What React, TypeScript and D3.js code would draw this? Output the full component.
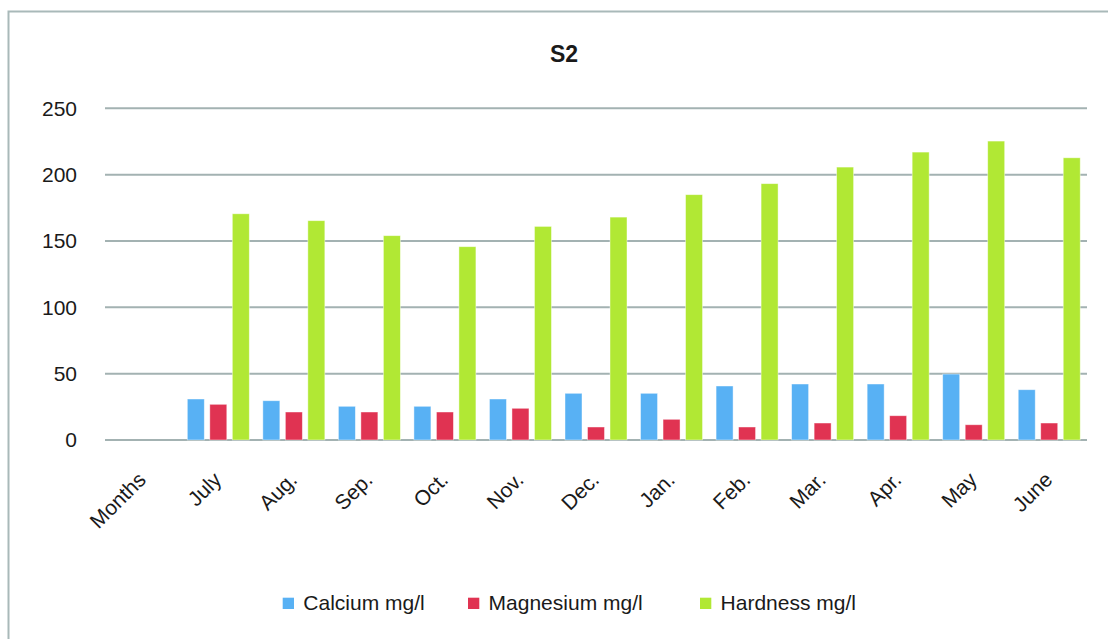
import React from "react";
import * as d3 from "d3";

const categories = ["Months", "July", "Aug.", "Sep.", "Oct.", "Nov.", "Dec.", "Jan.", "Feb.", "Mar.", "Apr.", "May", "June"];
const calcium: (number | null)[] = [null, 30.9, 29.6, 25.4, 25.4, 30.9, 35.2, 35.2, 40.7, 42.2, 42.2, 49.7, 37.9];
const magnesium: (number | null)[] = [null, 26.9, 21.1, 21.1, 21.1, 23.9, 9.8, 15.6, 9.8, 12.8, 18.3, 11.5, 12.8];
const hardness: (number | null)[] = [null, 170.5, 165.3, 154, 145.7, 161, 168, 184.9, 193.2, 205.7, 217, 225.3, 212.7];
const seriesNames = ["Calcium mg/l", "Magnesium mg/l", "Hardness mg/l"];
const seriesColors = ["#58b1f4", "#e03352", "#b1e834"];
const yTicks = [0, 50, 100, 150, 200, 250];
const title = "S2";

export default function App() {
  const W = 1108, H = 639;
  const left = 105, right = 1087, top = 108.3, bottom = 440;
  const font = "'Liberation Sans', Arial, sans-serif";
  const x = d3.scaleBand<string>().domain(categories).range([left, right]).padding(0);
  const y = d3.scaleLinear().domain([0, 250]).range([bottom, top]);
  const series = [calcium, magnesium, hardness];
  const barW = 17, step = 22.5;
  const groupW = step * 2 + barW;
  const legendX = [282.7, 468, 700];

  return (
    <svg width={W} height={H} style={{ position: "absolute", left: 0, top: 0, background: "#fff" }}>
      <rect x={0} y={0} width={W} height={H} fill="#fff" />
      <rect x={8.5} y={11.5} width={W + 20} height={H + 20} fill="none" stroke="#a9b9b9" strokeWidth={2} />
      <text x={564} y={62} textAnchor="middle" fontFamily={font} fontWeight="bold" fontSize={23} fill="#1a1a1a">{title}</text>
      {yTicks.map((t) => (
        <g key={t}>
          <line x1={left} x2={right} y1={y(t)} y2={y(t)} stroke="#a3b2b2" strokeWidth={2} />
          <text x={77} y={y(t)} dy="0.35em" textAnchor="end" fontFamily={font} fontSize={21} fill="#1a1a1a">{t}</text>
        </g>
      ))}
      {series.map((vals, si) =>
        vals.map((v, ci) => {
          if (v == null) return null;
          const cx = (x(categories[ci]) as number) + x.bandwidth() / 2;
          const bx = cx - groupW / 2 + si * step;
          return (
            <rect key={`${si}-${ci}`} x={bx} y={y(v)} width={barW} height={y(0) - y(v)}
              fill={seriesColors[si]} stroke="rgba(255,255,255,0.55)" strokeWidth={0.8} />
          );
        })
      )}
      {categories.map((c) => {
        const cx = (x(c) as number) + x.bandwidth() / 2;
        return (
          <text key={c} transform={`translate(${cx + 4.5},${481}) rotate(-45)`} textAnchor="end"
            fontFamily={font} fontSize={21} fill="#1a1a1a">{c}</text>
        );
      })}
      {seriesNames.map((n, i) => (
        <g key={n}>
          <rect x={legendX[i]} y={597.7} width={11.3} height={11.3} fill={seriesColors[i]} />
          <text x={legendX[i] + 20.6} y={610} fontFamily={font} fontSize={21} fill="#1a1a1a">{n}</text>
        </g>
      ))}
    </svg>
  );
}
